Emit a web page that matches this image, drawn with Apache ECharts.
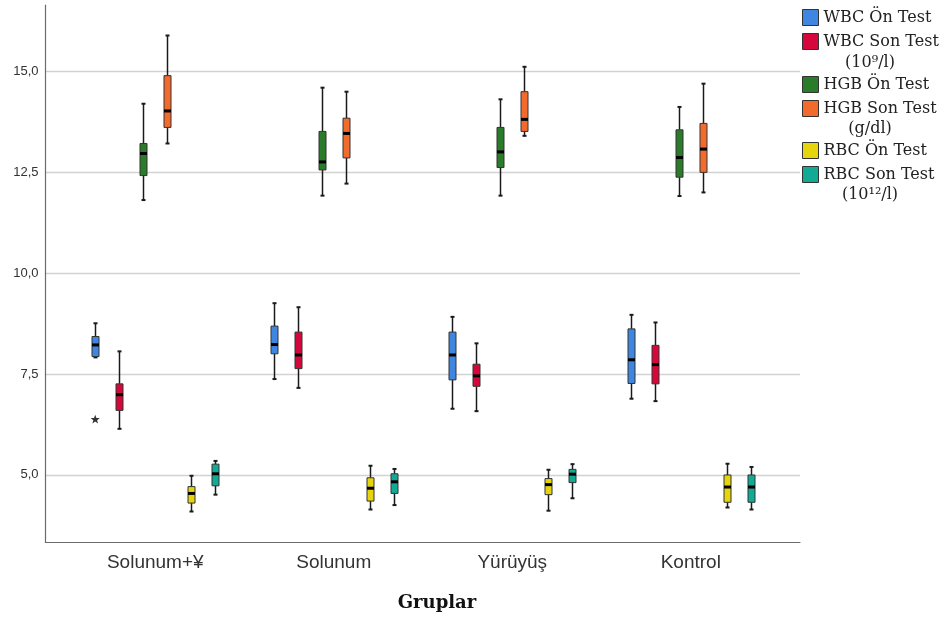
<!DOCTYPE html>
<html>
<head>
    <meta charset="UTF-8">
    <title>Gruplar - kutu grafiği</title>
    <script src="https://cdn.jsdelivr.net/npm/echarts@6.0.0/dist/echarts.min.js"></script>
    <style>
        html, body { margin: 0; padding: 0; background: #fff; }
        #chart { width: 944px; height: 617px; }
    </style>
</head>
<body>
<div id="chart"></div>
<script>
    // gruplar (x ekseni)
    var groups = ['Solunum+¥', 'Solunum', 'Yürüyüş', 'Kontrol'];
    // y ekseni etiketleri
    var yTicks = [5, 7.5, 10, 12.5, 15];

    // her grup için [min, Q1, medyan, Q3, max]
    var wbcOn = [[7.87, 7.89, 8.18, 8.39, 8.72], [7.33, 7.96, 8.19, 8.65, 9.22], [6.59, 7.31, 7.93, 8.50, 8.88], [6.84, 7.22, 7.81, 8.58, 8.93]];
    var wbcSon = [[6.09, 6.55, 6.94, 7.21, 8.02], [7.11, 7.59, 7.93, 8.50, 9.12], [6.53, 7.15, 7.41, 7.70, 8.22], [6.78, 7.21, 7.69, 8.17, 8.74]];
    var hgbOn = [[11.79, 12.40, 12.95, 13.20, 14.19], [11.90, 12.54, 12.74, 13.50, 14.59], [11.90, 12.60, 12.99, 13.60, 14.30], [11.89, 12.36, 12.85, 13.54, 14.11]];
    var hgbSon = [[13.20, 13.60, 14.01, 14.89, 15.89], [12.20, 12.84, 13.45, 13.83, 14.49], [13.39, 13.50, 13.80, 14.49, 15.11], [11.98, 12.48, 13.06, 13.70, 14.69]];
    var rbcOn = [[4.03, 4.24, 4.48, 4.65, 4.92], [4.08, 4.29, 4.61, 4.87, 5.17], [4.05, 4.45, 4.70, 4.85, 5.07], [4.13, 4.26, 4.64, 4.94, 5.22]];
    var rbcSon = [[4.45, 4.67, 4.97, 5.21, 5.29], [4.19, 4.48, 4.77, 4.97, 5.09], [4.36, 4.75, 4.96, 5.08, 5.21], [4.08, 4.26, 4.64, 4.94, 5.14]];
    // aykırı değerler: [grup, seri, değer]
    var outliers = [[0, 0, 6.32]];

    var names = ['WBC Ön Test', 'WBC Son Test', 'HGB Ön Test', 'HGB Son Test', 'RBC Ön Test', 'RBC Son Test'];
    var colors = ['#3f86e0', '#d6083b', '#2a7b2a', '#f26a2c', '#e6d40c', '#12a995'];
    var allData = [wbcOn, wbcSon, hgbOn, hgbSon, rbcOn, rbcSon];

    var chart = echarts.init(document.getElementById('chart'), null, {renderer: 'canvas'});

    // seri kaydırma: bant genişliğine göre
    var STEP = 0.1345;

    function boxRenderer(sIdx, color) {
        return function (params, api) {
            var cat = api.value(0);
            var band = api.size([1, 0])[0];
            var dx = (sIdx - 2.5) * band * STEP;
            var p = [1, 2, 3, 4, 5].map(function (d) {
                return api.coord([cat, api.value(d)]);
            });
            var x = Math.round(p[0][0] + dx) + 0.5;
            var ln = {stroke: '#1a1a1a', lineWidth: 1.5};
            return {
                type: 'group',
                children: [
                    {type: 'line', shape: {x1: x, y1: p[4][1], x2: x, y2: p[3][1]}, style: ln},
                    {type: 'line', shape: {x1: x, y1: p[1][1], x2: x, y2: p[0][1]}, style: ln},
                    {type: 'line', shape: {x1: x - 2, y1: p[4][1], x2: x + 2, y2: p[4][1]}, style: {stroke: '#1a1a1a', lineWidth: 2}},
                    {type: 'line', shape: {x1: x - 2, y1: p[0][1], x2: x + 2, y2: p[0][1]}, style: {stroke: '#1a1a1a', lineWidth: 2}},
                    {type: 'rect', shape: {x: x - 3.5, y: p[3][1], width: 7, height: p[1][1] - p[3][1]},
                        style: {fill: color, stroke: '#333', lineWidth: 1}},
                    {type: 'line', shape: {x1: x - 3.5, y1: p[2][1], x2: x + 3.5, y2: p[2][1]}, style: {stroke: '#000', lineWidth: 3}}
                ]
            };
        };
    }

    var series = allData.map(function (arr, i) {
        return {
            name: names[i],
            type: 'custom',
            xAxisIndex: 1,
            yAxisIndex: 1,
            itemStyle: {color: colors[i]},
            encode: {x: 0, y: [1, 2, 3, 4, 5]},
            data: arr.map(function (v, g) { return [g].concat(v); }),
            renderItem: boxRenderer(i, colors[i]),
            z: 3
        };
    });

    // yıldız işareti (aykırı değer)
    series.push({
        name: 'aykiri',
        type: 'custom',
        xAxisIndex: 1,
        yAxisIndex: 1,
        encode: {x: 0, y: 2},
        data: outliers,
        renderItem: function (params, api) {
            var band = api.size([1, 0])[0];
            var c = api.coord([api.value(0), api.value(2)]);
            var cx = c[0] + (api.value(1) - 2.5) * band * STEP;
            var pts = [];
            for (var k = 0; k < 10; k++) {
                var r = k % 2 === 0 ? 4.8 : 2;
                var a = -Math.PI / 2 + k * Math.PI / 5;
                pts.push([cx + r * Math.cos(a), c[1] + r * Math.sin(a)]);
            }
            return {type: 'polygon', shape: {points: pts}, style: {fill: '#333'}};
        },
        z: 3
    });

    var legendBase = {
        orient: 'vertical',
        left: 802,
        padding: 0,
        itemWidth: 16,
        itemHeight: 16,
        itemGap: 7,
        icon: 'rect',
        itemStyle: {borderColor: '#333', borderWidth: 1},
        textStyle: {fontFamily: 'DejaVu Serif', fontSize: 16, lineHeight: 16, color: '#222'}
    };

    function unitText(txt, y) {
        return {
            type: 'text', x: 870, y: y,
            style: {text: txt, font: '16px "DejaVu Serif"', fill: '#222', align: 'center', verticalAlign: 'middle'}
        };
    }

    var option = {
        animation: false,
        backgroundColor: '#fff',
        grid: [
            {left: 45.5, right: 144, top: 5, bottom: 74.5},
            {left: 66, right: 164, top: 5, bottom: 74.5}
        ],
        xAxis: [
            {
                gridIndex: 0, type: 'value', min: 0, max: 1,
                axisLine: {show: true, lineStyle: {color: '#6b6b6b', width: 1.2}},
                axisTick: {show: false}, axisLabel: {show: false}, splitLine: {show: false}
            },
            {
                gridIndex: 1, type: 'category', data: groups,
                axisLine: {show: false}, axisTick: {show: false},
                axisLabel: {fontFamily: 'Liberation Sans', fontSize: 19, color: '#333', margin: 13},
                name: 'Gruplar', nameLocation: 'middle', nameGap: 54,
                nameTextStyle: {fontFamily: 'DejaVu Serif', fontWeight: 'bold', fontSize: 18, color: '#111', padding: [0, 0, 0, 28]}
            }
        ],
        yAxis: [
            {
                gridIndex: 0, type: 'value', min: 3.32, max: 16.65,
                axisLine: {show: true, lineStyle: {color: '#6b6b6b', width: 1.2}},
                axisTick: {show: false, customValues: yTicks},
                axisLabel: {
                    customValues: yTicks, margin: 7,
                    fontFamily: 'Liberation Sans', fontSize: 13, color: '#333',
                    formatter: function (v) { return v.toFixed(1).replace('.', ','); }
                },
                splitLine: {show: true, lineStyle: {color: '#d2d2d2', width: 1.3}}
            },
            {
                gridIndex: 1, type: 'value', min: 3.32, max: 16.65, show: false
            }
        ],
        legend: [
            Object.assign({}, legendBase, {top: 9, data: [names[0], names[1]]}),
            Object.assign({}, legendBase, {top: 76, data: [names[2], names[3]]}),
            Object.assign({}, legendBase, {top: 142, data: [names[4], names[5]]})
        ],
        graphic: [
            unitText('(10⁹/l)', 62.5),
            unitText('(g/dl)', 129),
            unitText('(10¹²/l)', 195)
        ],
        series: series
    };

    chart.setOption(option);
</script>
</body>
</html>
